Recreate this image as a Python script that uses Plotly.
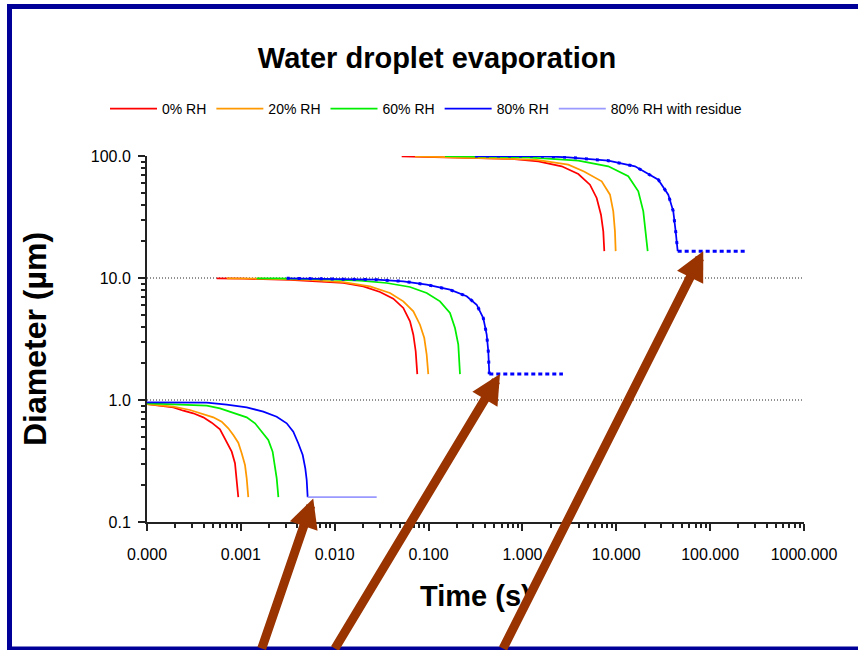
import math
import plotly.graph_objects as go

# Diameter (µm) of evaporating water droplets against time (s)
# at four relative humidities, for initial sizes of 1, 10 and 100 µm.

# --- 1 µm droplets ---
t_1um_rh0 = [1.00e-4, 1.38e-4, 1.91e-4, 2.44e-4, 3.11e-4, 3.98e-4, 4.89e-4, 5.99e-4, 7.07e-4, 7.99e-4, 8.66e-4, 9.03e-4, 9.39e-4]
d_1um_rh0 = [0.927, 0.898, 0.871, 0.817, 0.778, 0.721, 0.652, 0.575, 0.455, 0.377, 0.303, 0.221, 0.160]
t_1um_rh20 = [1.00e-4, 1.38e-4, 1.91e-4, 2.87e-4, 3.98e-4, 5.09e-4, 6.25e-4, 7.35e-4, 8.31e-4, 9.39e-4, 1.021e-3, 1.107e-3, 1.154e-3, 1.200e-3]
d_1um_rh20 = [0.927, 0.910, 0.881, 0.828, 0.768, 0.721, 0.664, 0.586, 0.516, 0.447, 0.366, 0.293, 0.228, 0.160]
t_1um_rh60 = [1.00e-4, 1.91e-4, 2.65e-4, 4.33e-4, 5.99e-4, 8.31e-4, 1.154e-3, 1.415e-3, 1.667e-3, 1.96e-3, 2.18e-3, 2.31e-3, 2.41e-3, 2.51e-3]
d_1um_rh60 = [0.940, 0.927, 0.915, 0.898, 0.855, 0.787, 0.721, 0.644, 0.550, 0.470, 0.377, 0.293, 0.228, 0.160]
t_1um_rh80 = [1.00e-4, 1.91e-4, 4.33e-4, 7.07e-4, 1.154e-3, 1.734e-3, 2.41e-3, 3.08e-3, 3.62e-3, 4.09e-3, 4.56e-3, 4.86e-3, 5.03e-3, 5.15e-3]
d_1um_rh80 = [0.957, 0.957, 0.950, 0.915, 0.871, 0.802, 0.730, 0.644, 0.550, 0.442, 0.354, 0.275, 0.221, 0.160]
t_1um_residue = [5.15e-3, 0.028]
d_1um_residue = [0.160, 0.160]

# --- 10 µm droplets ---
t_10um_rh0 = [5.53e-4, 1.062e-3, 3.34e-3, 6.97e-3, 0.01234, 0.02016, 0.03038, 0.0421, 0.0538, 0.0634, 0.0688, 0.0729, 0.0758]
d_10um_rh0 = [9.92, 9.87, 9.63, 9.40, 9.10, 8.55, 7.68, 6.77, 5.68, 4.42, 3.43, 2.51, 1.63]
t_10um_rh20 = [7.07e-4, 1.60e-3, 5.45e-3, 0.01234, 0.02375, 0.0388, 0.0538, 0.0688, 0.0810, 0.0900, 0.0955, 0.0993]
d_10um_rh20 = [9.92, 9.87, 9.63, 9.27, 8.55, 7.53, 6.44, 5.33, 4.14, 3.22, 2.35, 1.63]
t_10um_rh60 = [1.475e-3, 2.41e-3, 8.21e-3, 0.0186, 0.0358, 0.0634, 0.0955, 0.1323, 0.1691, 0.1912, 0.2073, 0.2162]
d_10um_rh60 = [9.95, 9.94, 9.76, 9.50, 9.10, 8.44, 7.53, 6.44, 5.17, 3.89, 2.84, 1.63]
t_10um_rh80 = [3.08e-3, 0.01234, 0.0280, 0.0538, 0.0955, 0.1691, 0.2547, 0.3256, 0.3828, 0.4161, 0.4328, 0.4435]
d_10um_rh80 = [9.95, 9.81, 9.68, 9.40, 8.81, 8.02, 7.08, 6.04, 4.70, 3.43, 2.51, 1.63]
t_10um_residue = [0.4435, 2.70]
d_10um_residue = [1.63, 1.63]

# --- 100 µm droplets ---
t_100um_rh0 = [0.0517, 0.265, 0.768, 1.475, 2.62, 3.94, 5.24, 6.18, 6.87, 7.27, 7.45]
d_100um_rh0 = [99.4, 96.3, 94.5, 90.5, 82.3, 71.2, 58.2, 45.3, 33.0, 24.1, 16.6]
t_100um_rh20 = [0.0717, 0.288, 1.361, 3.08, 4.53, 6.99, 8.57, 9.29, 9.68, 9.85]
d_100um_rh20 = [99.4, 96.3, 93.3, 84.9, 74.6, 62.0, 48.2, 35.2, 24.1, 16.6]
t_100um_rh60 = [0.1496, 1.154, 3.94, 8.22, 13.42, 17.16, 19.40, 20.57, 21.60]
d_100um_rh60 = [99.8, 97.6, 91.5, 82.3, 68.2, 51.4, 35.2, 24.1, 16.6]
t_100um_rh80 = [0.3124, 1.475, 3.08, 8.22, 15.82, 28.03, 35.81, 40.49, 42.93, 45.09]
d_100um_rh80 = [99.8, 99.8, 97.6, 91.5, 82.3, 63.9, 48.2, 35.2, 24.1, 16.6]
t_100um_residue = [45.09, 247.0]
d_100um_residue = [16.6, 16.6]

# Residue points picked out by the arrows
arrow_t = [0.0059, 0.577, 84.5]
arrow_d = [0.156, 1.63, 16.6]

FONT = "Liberation Sans, Arial, sans-serif"
INK = "#222222"

series = [
    ("0% RH", "#FF0000", [(t_1um_rh0, d_1um_rh0), (t_10um_rh0, d_10um_rh0), (t_100um_rh0, d_100um_rh0)]),
    ("20% RH", "#FF9900", [(t_1um_rh20, d_1um_rh20), (t_10um_rh20, d_10um_rh20), (t_100um_rh20, d_100um_rh20)]),
    ("60% RH", "#00EE00", [(t_1um_rh60, d_1um_rh60), (t_10um_rh60, d_10um_rh60), (t_100um_rh60, d_100um_rh60)]),
    ("80% RH", "#0000FF", [(t_1um_rh80, d_1um_rh80), (t_10um_rh80, d_10um_rh80), (t_100um_rh80, d_100um_rh80)]),
]

fig = go.Figure()

# dotted reference lines at 1 µm and 10 µm
for level in (1.0, 10.0):
    fig.add_trace(go.Scatter(x=[1e-4, 1e3], y=[level, level], mode="lines",
                             line=dict(color=INK, width=1, dash="1px,2px"),
                             showlegend=False, hoverinfo="skip"))

for name, colour, curves in series:
    for i, (t, d) in enumerate(curves):
        fig.add_trace(go.Scatter(x=t, y=d, mode="lines", name=name, legendgroup=name,
                                 showlegend=(i == 0),
                                 line=dict(color=colour, width=1.75)))

# 80% RH with the dry residue left behind
fig.add_trace(go.Scatter(x=t_1um_residue, y=d_1um_residue, mode="lines",
                         name="80% RH with residue", legendgroup="res",
                         line=dict(color="#9999FF", width=1.75)))
for t_curve, d_curve, t_res, d_res in [
    (t_10um_rh80, d_10um_rh80, t_10um_residue, d_10um_residue),
    (t_100um_rh80, d_100um_rh80, t_100um_residue, d_100um_residue),
]:
    # sparse dots riding on the shrinking part of the curve
    fig.add_trace(go.Scatter(x=t_curve, y=d_curve, mode="lines",
                             legendgroup="res", showlegend=False,
                             line=dict(color="#0000FF", width=3, dash="3px,8px")))
    # dotted plateau at the residue size
    fig.add_trace(go.Scatter(x=t_res, y=d_res, mode="lines",
                             legendgroup="res", showlegend=False,
                             line=dict(color="#0000FF", width=3, dash="4px,3px")))

axis_common = dict(
    type="log", showline=True, linecolor=INK, linewidth=2,
    ticks="outside", ticklen=7, tickwidth=1.5, tickcolor=INK,
    dtick=1, showgrid=False, zeroline=False,
    tickfont=dict(family=FONT, size=16, color="black"),
    minor=dict(dtick="D1", ticks="outside", ticklen=4, tickwidth=1.5,
               tickcolor=INK, showgrid=False),
)

fig.update_xaxes(range=[-4, 3], tickformat=".3f", ticklabelstandoff=10, **axis_common)
fig.update_yaxes(range=[-1, 2], tickformat=".1f", ticklabelstandoff=4, **axis_common)

annotations = [
    dict(text="<b>Time (s)</b>", xref="paper", yref="paper", x=0.5, y=(522 - 596) / 366,
         xanchor="center", yanchor="middle", showarrow=False,
         font=dict(family=FONT, size=29, color="black")),
    dict(text="<b>Diameter (µm)</b>", xref="paper", yref="paper", x=(35 - 147) / 657, y=0.5,
         xanchor="center", yanchor="middle", textangle=-90, showarrow=False,
         font=dict(family=FONT, size=32, color="black")),
]
tails = [(-52, 162), (-166, 287), (-201, 410)]
for t, d, (ax, ay) in zip(arrow_t, arrow_d, tails):
    annotations.append(dict(x=math.log10(t), y=math.log10(d), xref="x", yref="y",
                            ax=ax, ay=ay, axref="pixel", ayref="pixel", text="",
                            showarrow=True, arrowhead=2, arrowsize=0.65, arrowwidth=9,
                            arrowcolor="#993300", standoff=0))

fig.update_layout(
    width=858, height=650,
    margin=dict(l=147, r=54, t=156, b=128),
    paper_bgcolor="white", plot_bgcolor="white",
    font=dict(family=FONT, color="black"),
    title=dict(text="Water droplet evaporation", x=437 / 858, xref="container",
               y=1 - 58 / 650, yref="container", xanchor="center", yanchor="middle",
               font=dict(family=FONT, size=29, color="black", weight="bold")),
    legend=dict(orientation="h", x=(105 - 147) / 657, y=(522 - 109) / 366,
                xanchor="left", yanchor="middle", bgcolor="rgba(0,0,0,0)",
                font=dict(family=FONT, size=14, color="black"),
                itemwidth=47, traceorder="normal"),
    annotations=annotations,
    shapes=[dict(type="rect", xref="paper", yref="paper",
                 x0=(9.5 - 147) / 657, x1=(875 - 147) / 657,
                 y0=(522 - 649) / 366, y1=(522 - 6.5) / 366,
                 line=dict(color="#000099", width=5), fillcolor="rgba(0,0,0,0)",
                 layer="above")],
)

fig.write_html("out.html")
